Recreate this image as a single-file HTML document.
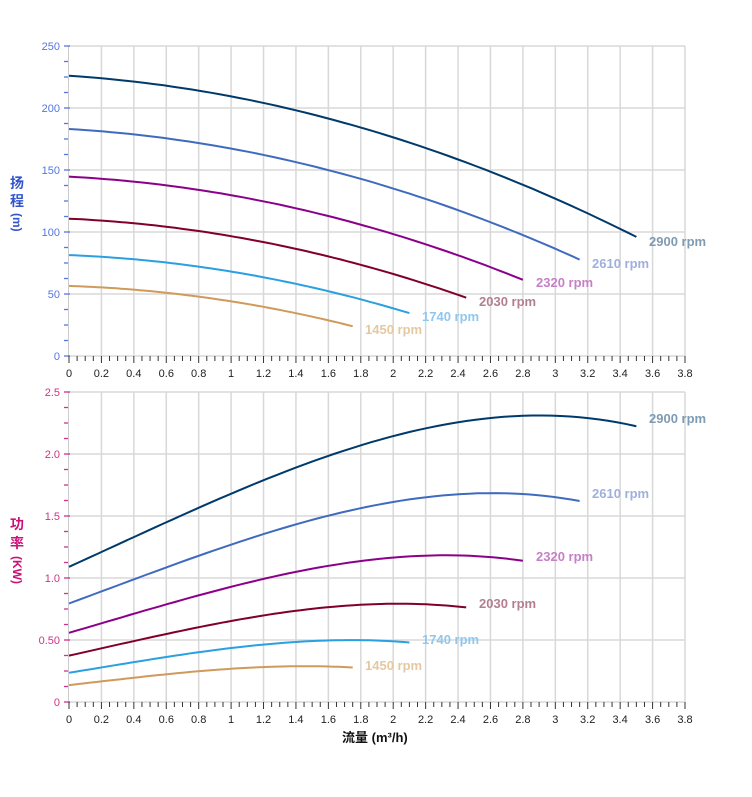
<!DOCTYPE html>
<html><head><meta charset="utf-8"><style>
body{margin:0;background:#fff;}
svg{display:block;font-family:"Liberation Sans","Noto Sans CJK SC",sans-serif;}
.xl{font-size:11px;fill:#222;text-anchor:middle;}
.yb{font-size:11px;fill:#5577dd;text-anchor:end;}
.ym{font-size:11px;fill:#cc3388;text-anchor:end;}
.lab{font-size:13px;font-weight:bold;}
</style></head><body>
<svg id="s" width="752" height="797" viewBox="0 0 752 797">
<g id="grid"></g>
<g id="curves"></g>
<g class="xl">
<text x="69" y="377">0</text><text x="101.4" y="377">0.2</text><text x="133.8" y="377">0.4</text><text x="166.3" y="377">0.6</text><text x="198.7" y="377">0.8</text><text x="231.1" y="377">1</text><text x="263.5" y="377">1.2</text><text x="295.9" y="377">1.4</text><text x="328.4" y="377">1.6</text><text x="360.8" y="377">1.8</text><text x="393.2" y="377">2</text><text x="425.6" y="377">2.2</text><text x="458" y="377">2.4</text><text x="490.5" y="377">2.6</text><text x="522.9" y="377">2.8</text><text x="555.3" y="377">3</text><text x="587.7" y="377">3.2</text><text x="620.1" y="377">3.4</text><text x="652.6" y="377">3.6</text><text x="685" y="377">3.8</text>
<text x="69" y="723">0</text><text x="101.4" y="723">0.2</text><text x="133.8" y="723">0.4</text><text x="166.3" y="723">0.6</text><text x="198.7" y="723">0.8</text><text x="231.1" y="723">1</text><text x="263.5" y="723">1.2</text><text x="295.9" y="723">1.4</text><text x="328.4" y="723">1.6</text><text x="360.8" y="723">1.8</text><text x="393.2" y="723">2</text><text x="425.6" y="723">2.2</text><text x="458" y="723">2.4</text><text x="490.5" y="723">2.6</text><text x="522.9" y="723">2.8</text><text x="555.3" y="723">3</text><text x="587.7" y="723">3.2</text><text x="620.1" y="723">3.4</text><text x="652.6" y="723">3.6</text><text x="685" y="723">3.8</text>
</g>
<g class="yb">
<text x="60" y="360">0</text><text x="60" y="298">50</text><text x="60" y="236">100</text><text x="60" y="174">150</text><text x="60" y="112">200</text><text x="60" y="50">250</text>
</g>
<g class="ym">
<text x="60" y="706">0</text><text x="60" y="644">0.50</text><text x="60" y="582">1.0</text><text x="60" y="520">1.5</text><text x="60" y="458">2.0</text><text x="60" y="396">2.5</text>
</g>
<g font-weight="bold" font-size="14" fill="#3355cc">
<text x="10" y="188">扬</text><text x="10" y="206">程</text>
<text transform="translate(13,213) rotate(90)" font-size="12">(m)</text>
</g>
<g font-weight="bold" font-size="14" fill="#cc1177">
<text x="10" y="529">功</text><text x="10" y="548">率</text>
<text transform="translate(13,556) rotate(90)" font-size="12">(KW)</text>
</g>
<text x="342" y="742" font-size="13" font-weight="bold" fill="#111">流量 (m³/h)</text>
<g class="lab">
<text x="649" y="246" fill="#7f9bb3">2900 rpm</text>
<text x="592" y="268" fill="#9fb0dd">2610 rpm</text>
<text x="536" y="287" fill="#c77fc7">2320 rpm</text>
<text x="479" y="306" fill="#b37f8f">2030 rpm</text>
<text x="422" y="321" fill="#8fc7ee">1740 rpm</text>
<text x="365" y="334" fill="#e6c8a0">1450 rpm</text>
<text x="649" y="423" fill="#7f9bb3">2900 rpm</text>
<text x="592" y="498" fill="#9fb0dd">2610 rpm</text>
<text x="536" y="561" fill="#c77fc7">2320 rpm</text>
<text x="479" y="608" fill="#b37f8f">2030 rpm</text>
<text x="422" y="644" fill="#8fc7ee">1740 rpm</text>
<text x="365" y="670" fill="#e6c8a0">1450 rpm</text>
</g>
</svg>
<script>
var NS="http://www.w3.org/2000/svg";
function el(p,t,a){var e=document.createElementNS(NS,t);for(var k in a)e.setAttribute(k,a[k]);p.appendChild(e);return e;}
var g=document.getElementById("grid"),c=document.getElementById("curves");
var X0=69,XS=616/3.8;
function X(q){return X0+q*XS;}
[[46,356,"#5577dd"],[392,702,"#cc3388"]].forEach(function(p){
 var top=p[0],bot=p[1];
 for(var i=1;i<=19;i++)el(g,"line",{x1:X(i*0.2),x2:X(i*0.2),y1:top,y2:bot,stroke:"#d8d8d8","stroke-width":1.5});
 for(var j=0;j<=5;j++){var y=bot-j*62;el(g,"line",{x1:68,x2:685,y1:y,y2:y,stroke:"#d8d8d8","stroke-width":1.5});}
 el(g,"line",{x1:68.5,x2:68.5,y1:top,y2:bot,stroke:"#ccc","stroke-width":1});
 for(var j=0;j<=20;j++){var y=bot-j*15.5;el(g,"line",{x1:64,x2:j%4==0?70:68,y1:y,y2:y,stroke:p[2],"stroke-width":1.3});}
 for(var i=0;i<=76;i++){var x=X(i*0.05);el(g,"line",{x1:x,x2:x,y1:bot,y2:bot+(i%4==0?7:5),stroke:"#333","stroke-width":1});}
});
var S=[[2900,"#003a6b"],[2610,"#3f6bbf"],[2320,"#8b008b"],[2030,"#800028"],[1740,"#2aa0e0"],[1450,"#d09a5a"]];
function H(q){return 226-8.44*q-8.2*q*q;}
function P(q){return 1.09+0.594*q+0.025*q*q-0.0292*q*q*q;}
S.forEach(function(s){
 var r=s[0]/2900,qm=3.5*r,a="",b="";
 for(var i=0;i<=60;i++){var q=qm*i/60,u=q/r;
  var yh=356-H(u)*r*r*1.24, yp=702-P(u)*r*r*r*124;
  a+=(i?"L":"M")+X(q).toFixed(1)+","+yh.toFixed(1);
  b+=(i?"L":"M")+X(q).toFixed(1)+","+yp.toFixed(1);}
 el(c,"path",{d:a,fill:"none",stroke:s[1],"stroke-width":2});
 el(c,"path",{d:b,fill:"none",stroke:s[1],"stroke-width":2});
});
</script>
</body></html>
